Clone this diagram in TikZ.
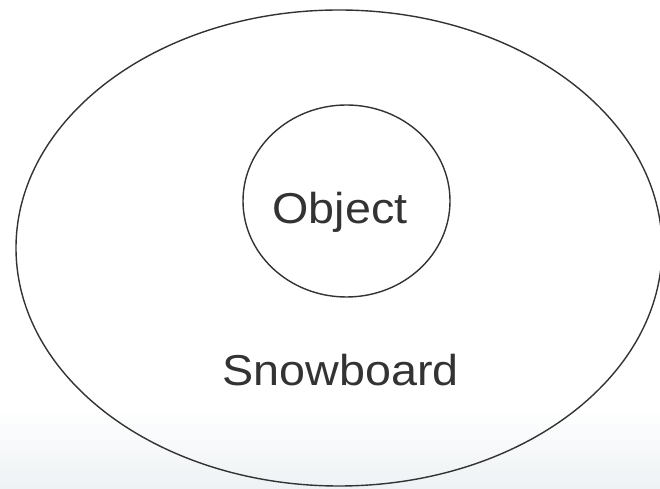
\documentclass[tikz,border=0pt]{standalone}
\usepackage{fontspec}
\setmainfont{Liberation Sans}[FakeStretch=1.08]
\definecolor{inkgray}{HTML}{333333}
\definecolor{bgtint}{HTML}{EEF2F4}
\tikzset{
  outline/.style={draw=inkgray,line width=0.8pt},
  setname/.style={text=inkgray,font=\fontsize{24.6}{28}\selectfont,anchor=base,inner sep=0pt}
}
\begin{document}
\begin{tikzpicture}[line cap=round,line join=round]
  \useasboundingbox (0,0) rectangle (13.2,9.76);
  \fill[top color=white,bottom color=bgtint] (0,0) rectangle (13.2,1.6);
  \draw[outline] (6.78,4.80) ellipse[x radius=6.46,y radius=4.76];
  \draw[outline] (6.93,5.74) ellipse[x radius=2.07,y radius=1.92];
  \node[setname] (object) at (6.80,5.28) {Object};
  \node[setname] (snowboard) at (6.81,2.06) {Snowboard};
\end{tikzpicture}
\end{document}
